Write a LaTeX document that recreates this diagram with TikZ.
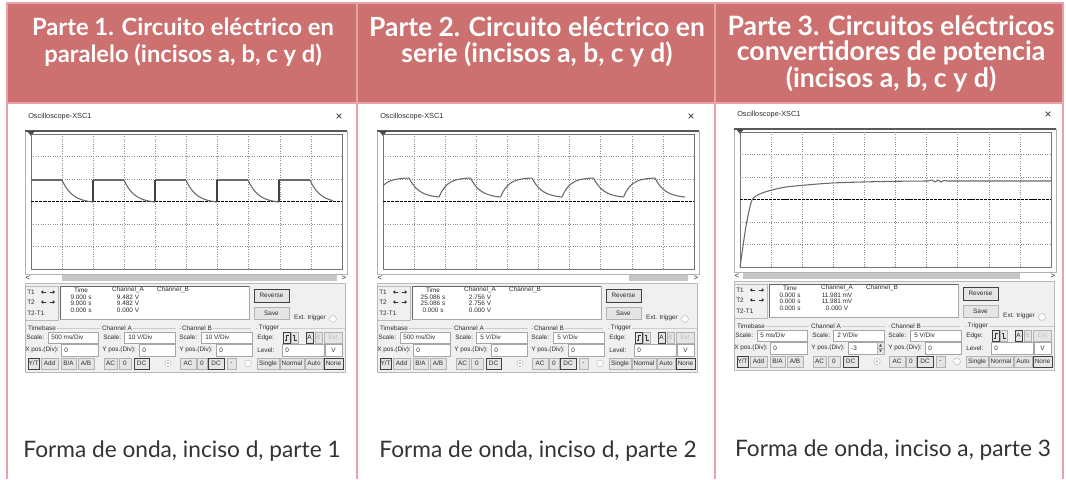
\documentclass[tikz,border=0pt]{standalone}
\usepackage{fontspec}
\setmainfont{Lato}
\newfontfamily\uifont{Liberation Sans}
\usetikzlibrary{arrows.meta}

\definecolor{hdrred}{RGB}{205,112,112}
\definecolor{rulepink}{RGB}{232,162,170}
\definecolor{panelgray}{RGB}{240,240,240}
\definecolor{uitext}{RGB}{45,45,45}
\definecolor{gridgray}{RGB}{140,140,140}
\definecolor{wavegray}{RGB}{105,105,105}

\tikzset{
  hdrtext/.style={text=white, align=center, inner sep=0pt},
  captext/.style={text=black!80, font=\fontsize{17}{20}\selectfont, inner sep=0pt},
  ui/.style={text=uitext, font=\uifont\fontsize{4.8}{5}\selectfont, inner sep=0pt},
  uibtn/.style={draw=gray!60, fill=panelgray!90!gray, line width=0.4pt},
  uibtnon/.style={draw=black!75, fill=panelgray!90!gray, line width=0.7pt},
  uifield/.style={draw=gray!70, fill=white, line width=0.4pt},
  groupline/.style={draw=gray!40, line width=0.4pt},
  scrgrid/.style={gridgray, dash pattern=on 0.6pt off 1.2pt, line width=0.45pt},
  wave/.style={wavegray, line width=0.8pt},
}

% one oscilloscope window, local origin = top left corner of the screen
% #1 time, #2 channel A value, #3-#5 scales, #6 channel A y pos, #7-#8 scroll thumb
\newcommand{\scopepanel}[8]{%
  \node[ui, anchor=west, font=\uifont\fontsize{5.5}{6}\selectfont] at (-3,-17) {Oscilloscope-XSC1};
  \node[ui, font=\uifont\fontsize{9}{9}\selectfont] at (308,-17) {×};
  \draw[gray!60, fill=white] (-6,-3) rectangle (316,140); % screen frame
  \draw[black!65, line width=1.3pt] (-6,-3) -- (316,-3);
  \fill[black!70] (-4,-3) -- (4,-3) -- (0,2) -- cycle;
  \draw[black!55, line width=0.7pt] (0,0) rectangle (311,135);
  \foreach \i in {1,...,9} \draw[scrgrid] (\i*31.1,0) -- (\i*31.1,135);
  \foreach \j in {1,2,4,5} \draw[scrgrid] (0,\j*22.5) -- (311,\j*22.5);
  \draw[black, line width=0.9pt, dash pattern=on 2.4pt off 0.7pt] (0,67.5) -- (311,67.5); % zero line
  \fill[gray!45] (#7,141) rectangle (#8,147); % scroll bar
  \node[ui, font=\uifont\fontsize{6}{6}\selectfont] at (-3,144) {<};
  \node[ui, font=\uifont\fontsize{6}{6}\selectfont] at (313,144) {>};
  \draw[gray!55, fill=panelgray] (-6,149) rectangle (314,238); % control panel
  \draw[gray!55] (-6,152) rectangle (27,186);
  \node[ui, anchor=west] at (-4,158) {T1};
  \node[ui, anchor=west] at (-4,168) {T2};
  \node[ui, anchor=west] at (-4,179) {T2-T1};
  \foreach \ay in {158,168} {
    \draw[-{Triangle[length=1.6pt,width=2.6pt]}, line width=0.7pt, black!80] (15,\ay) -- (10,\ay);
    \draw[-{Triangle[length=1.6pt,width=2.6pt]}, line width=0.7pt, black!80] (19,\ay) -- (24,\ay);
  }
  \draw[uifield] (29,152) rectangle (218,185);
  \draw[black!60, line width=0.7pt] (29,185) -- (29,152) -- (218,152);
  \node[ui] at (50,156) {Time};
  \node[ui] at (50,163) {#1};
  \node[ui] at (50,169.5) {#1};
  \node[ui] at (50,176) {0.000 s};
  \node[ui] at (97,156) {Channel\_A};
  \node[ui] at (97,163) {#2};
  \node[ui] at (97,169.5) {#2};
  \node[ui] at (97,176) {0.000 V};
  \node[ui] at (142,156) {Channel\_B};
  \draw[uibtnon] (223,155) rectangle (258,168) node[ui, midway] {Reverse};
  \draw[uibtn] (223,173) rectangle (258,185) node[ui, midway] {Save};
  \node[ui] at (279,184) {Ext. trigger};
  \draw[gray!50, fill=white] (302,185) circle (2.6pt);
  \draw[groupline] (-6,194) -- (69,194);
  \draw[groupline] (72,194) -- (145,194);
  \draw[groupline] (148,194) -- (220,194);
  \draw[groupline] (225,194) -- (314,194);
  \node[ui, fill=panelgray, inner xsep=1pt] at (11,194) {Timebase};
  \node[ui, fill=panelgray, inner xsep=1pt] at (86,194) {Channel A};
  \node[ui, fill=panelgray, inner xsep=1pt] at (166,194) {Channel B};
  \node[ui, fill=panelgray, inner xsep=1pt] at (238,194) {Trigger};
  \node[ui, anchor=west] at (-5,203.5) {Scale:};
  \draw[uifield] (17,198) rectangle (67,209);
  \node[ui, anchor=west] at (20,203.5) {#3};
  \node[ui, anchor=west] at (72,203.5) {Scale:};
  \draw[uifield] (93,198) rectangle (144,209);
  \node[ui, anchor=west] at (97,203.5) {#4};
  \node[ui, anchor=west] at (148,203.5) {Scale:};
  \draw[uifield] (170,198) rectangle (221,209);
  \node[ui, anchor=west] at (174,203.5) {#5};
  \node[ui, anchor=west] at (226,203.5) {Edge:};
  \draw[uibtnon] (252,198) rectangle (259,209);
  \draw[black!80, line width=0.5pt] (253.5,206) -- (255.5,206) -- (255.5,201) -- (257.5,201);
  \draw[uibtn] (260,198) rectangle (267,209);
  \draw[black!80, line width=0.5pt] (261.5,201) -- (263.5,201) -- (263.5,206) -- (265.5,206);
  \draw[uibtnon] (275,198) rectangle (282,209) node[ui, midway] {A};
  \draw[uibtn] (284,198) rectangle (291,209) node[ui, midway, text=gray!50] {B};
  \draw[uibtn] (293,198) rectangle (311,209) node[ui, midway, text=gray!50] {Ext};
  \node[ui, anchor=west] at (-6,216) {X pos.(Div):};
  \draw[uifield] (30,210) rectangle (67,222);
  \node[ui, anchor=west] at (33,216) {0};
  \node[ui, anchor=west] at (71,216) {Y pos.(Div):};
  \draw[uifield] (108,210) rectangle (144,222);
  \node[ui, anchor=west] at (111,216) {#6};
  \node[ui, anchor=west] at (148,216) {Y pos.(Div):};
  \draw[uifield] (185,210) rectangle (221,222);
  \node[ui, anchor=west] at (188,216) {0};
  \node[ui, anchor=west] at (226,216) {Level:};
  \draw[uifield] (251,210) rectangle (293,222);
  \node[ui, anchor=west] at (254,216) {0};
  \draw[uifield] (294,210) rectangle (311,222) node[ui, midway] {V};
  \draw[uibtnon] (-3,224) rectangle (8,235) node[ui, midway] {Y/T};
  \draw[uibtn] (10,224) rectangle (27,235) node[ui, midway] {Add};
  \draw[uibtn] (30,224) rectangle (45,235) node[ui, midway] {B/A};
  \draw[uibtn] (47,224) rectangle (63,235) node[ui, midway] {A/B};
  \draw[uibtn] (73,224) rectangle (86,235) node[ui, midway] {AC};
  \draw[uibtn] (88,224) rectangle (100,235) node[ui, midway] {0};
  \draw[uibtnon] (103,224) rectangle (118,235) node[ui, midway] {DC};
  \draw[gray!50, fill=white] (137,229.5) circle (2.4pt);
  \fill[gray!50] (137,229.5) circle (1pt);
  \draw[uibtn] (149,224) rectangle (165,235) node[ui, midway] {AC};
  \draw[uibtn] (166,224) rectangle (176,235) node[ui, midway] {0};
  \draw[uibtnon] (177,224) rectangle (193,235) node[ui, midway] {DC};
  \draw[uibtn] (196,224) rectangle (205,235) node[ui, midway] {-};
  \draw[gray!50, fill=white] (217,229.5) circle (2.6pt);
  \draw[uibtn] (226,224) rectangle (248,235) node[ui, midway] {Single};
  \draw[uibtn] (249,224) rectangle (273,235) node[ui, midway] {Normal};
  \draw[uibtn] (274,224) rectangle (292,235) node[ui, midway] {Auto};
  \draw[uibtnon] (293,224) rectangle (312,235) node[ui, midway] {None};
}

\begin{document}
\begin{tikzpicture}[x=0.75pt, y=-0.75pt]
  \useasboundingbox (0,0) rectangle (1066,479);
  \fill[white] (0,0) rectangle (1066,479);
  \fill[hdrred] (7,3) rectangle (1063,103); % header row
  \draw[rulepink, line width=1.6pt] (7,479) -- (7,3) -- (1063,3) -- (1063,479); % table rules
  \draw[rulepink, line width=1.6pt] (7,103) -- (1063,103);
  \draw[rulepink, line width=1.6pt] (357,3) -- (357,479);
  \draw[rulepink, line width=1.6pt] (715,3) -- (715,479);

  \node[hdrtext, font=\fontsize{17.8}{20}\selectfont\bfseries] (head1) at (183,42) {Parte 1. Circuito eléctrico en\\paralelo (incisos a, b, c y d)};
  \node[hdrtext, font=\fontsize{19.8}{19.5}\selectfont\bfseries] (head2) at (537,42) {Parte 2. Circuito eléctrico en\\serie (incisos a, b, c y d)};
  \node[hdrtext, font=\fontsize{20}{19}\selectfont\bfseries] (head3) at (891,54) {Parte 3. Circuitos eléctricos\\convertidores de potencia\\(incisos a, b, c y d)};

  % parallel circuit
  \begin{scope}[shift={(31,134)}]
    \scopepanel{9.000 s}{9.482 V}{500 ms/Div}{10 V/Div}{10 V/Div}{0}{31}{306}
    \begin{scope}
      \clip (0,0) rectangle (302,135);
      \foreach \k in {0,...,4} {
        \draw[wave] (62*\k,46) -- ({62*\k+31},46);
        \draw[wave, domain=0:1, samples=20, variable=\t] plot ({62*\k+31+31*\t},{68-22*(exp(-3*\t)-exp(-3))/(1-exp(-3))});
      }
      \foreach \k in {1,...,4} \draw[black!75, line width=0.8pt] (62*\k,68) -- (62*\k,46);
    \end{scope}
  \end{scope}

  % series circuit
  \begin{scope}[shift={(383,134)}]
    \scopepanel{25.086 s}{2.756 V}{500 ms/Div}{5 V/Div}{5 V/Div}{0}{246}{305}
    \draw[wave, domain=7:33, samples=15, variable=\s] plot ({\s-7},{63-19*(1-exp(-\s/8))/(1-exp(-33/8))});
    \foreach \k in {0,...,4}
      \draw[wave, domain=0:30, samples=15, variable=\s] plot ({26+61.5*\k+\s},{44+19*(1-exp(-\s/10))/(1-exp(-3))});
    \foreach \k in {0,...,3}
      \draw[wave, domain=0:31.5, samples=15, variable=\s] plot ({56+61.5*\k+\s},{63-19*(1-exp(-\s/8))/(1-exp(-31.5/8))});
  \end{scope}

  % power converter
  \begin{scope}[shift={(740,132)}]
    \scopepanel{0.000 s}{11.981 mV}{5 ms/Div}{2 V/Div}{5 V/Div}{-3}{3}{280}
    \draw[uibtn] (137,210) rectangle (144,222); % spinner
    \draw[gray!70, line width=0.3pt] (137,216) -- (144,216);
    \fill[black!70] (139,214.5) -- (142,214.5) -- (140.5,212) -- cycle;
    \fill[black!70] (139,217.5) -- (142,217.5) -- (140.5,220) -- cycle;
    \draw[wave] plot[smooth] coordinates {(0,135) (3,114) (6,94) (9,79) (12,68) (16,64) (22,61) (32,58) (46,55) (66,53) (92,51) (122,50) (155,49.3) (188,49)}
      -- (192,48) -- (195,50) -- (198,48) -- (201,50) -- (204,48.5) -- (207,49) -- (311,49);
  \end{scope}

  \node[captext] (cap1) at (182,451) {Forma de onda, inciso d, parte 1};
  \node[captext] (cap2) at (538,451) {Forma de onda, inciso d, parte 2};
  \node[captext] (cap3) at (893,450) {Forma de onda, inciso a, parte 3};
\end{tikzpicture}
\end{document}
